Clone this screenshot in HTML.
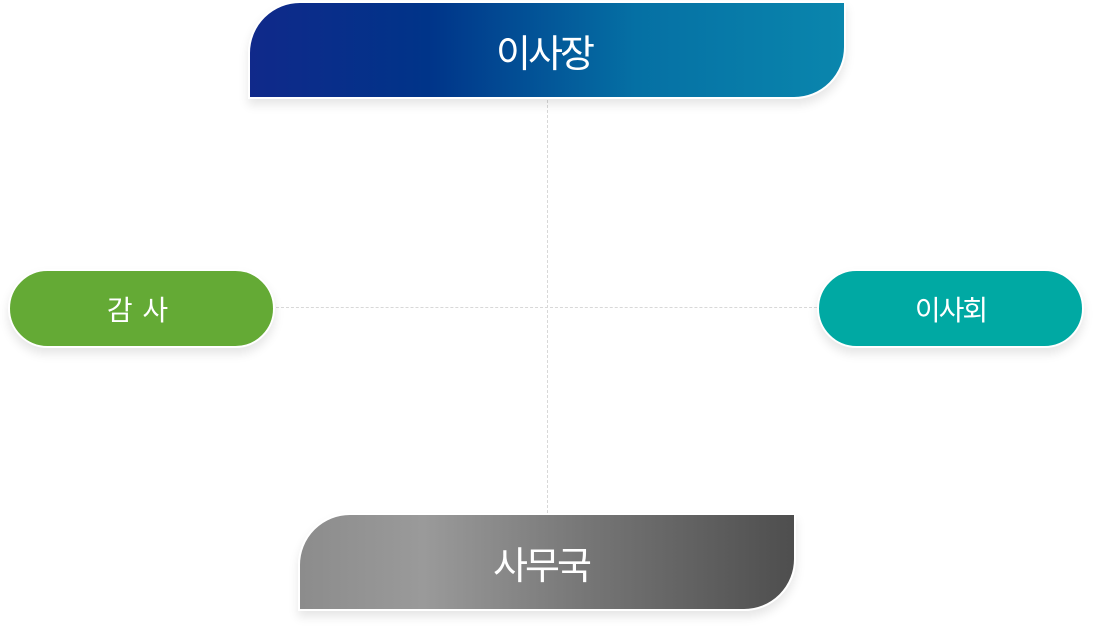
<!DOCTYPE html>
<html><head><meta charset="utf-8"><style>
body{margin:0;width:1095px;height:629px;background:#fff;position:relative;overflow:hidden;font-family:"Liberation Sans","Noto Sans CJK KR",sans-serif}
.b{position:absolute;box-sizing:border-box;border:2px solid #fff;color:#fff;display:flex;align-items:center;justify-content:center;box-shadow:0 6px 10px rgba(0,0,0,0.10);font-weight:400}
.top{left:248px;top:1px;width:598px;height:98px;border-radius:52px 0 52px 0;background:linear-gradient(90deg,#10298a 0%,#003489 30%,#0570a4 65%,#0a86ad 100%);font-size:38px;letter-spacing:-3px;padding-right:6px}
.bot{left:298px;top:513px;width:498px;height:98px;border-radius:52px 0 52px 0;background:linear-gradient(90deg,#8c8c8c 0%,#9a9a9a 25%,#747474 60%,#4e4e4e 100%);font-size:38px;letter-spacing:-3px;padding-right:12px}
.pill{top:269px;height:79px;width:267px;border-radius:40px;font-size:28px;letter-spacing:-2px}
.g{left:8px;background:#64aa35;padding-right:10px;word-spacing:6px}
.t{left:817px;background:#00a9a3}
.v{position:absolute;left:547px;top:100px;height:413px;border-left:1px dashed #d8d8d8}
.h{position:absolute;left:276px;top:307px;width:541px;border-top:1px dashed #d8d8d8}
</style></head><body>
<div class="v"></div><div class="h"></div>
<div class="b top">이사장</div>
<div class="b pill g">감 사</div>
<div class="b pill t">이사회</div>
<div class="b bot">사무국</div>
</body></html>
